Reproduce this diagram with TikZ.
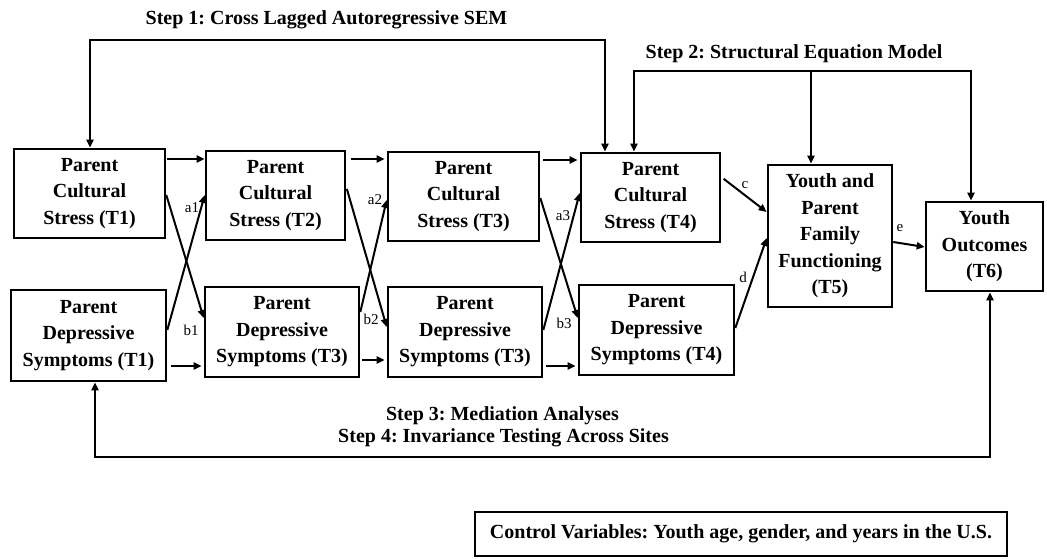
\documentclass[tikz,border=0pt]{standalone}
\usepackage{fontspec}
\setmainfont{Liberation Serif}
\usetikzlibrary{arrows.meta}
\frenchspacing
\begin{document}
\begin{tikzpicture}[x=1pt,y=-1pt,
  bx/.style={draw, line width=2.6pt, align=center, inner sep=0pt, font=\fontsize{20}{26.5}\selectfont\bfseries},
  ttl/.style={font=\fontsize{20}{20}\selectfont\bfseries, inner sep=0pt, anchor=base},
  lbl/.style={font=\fontsize{15}{15}\selectfont, inner sep=0pt},
  arr/.style={line width=2pt, -{Triangle[length=8pt,width=7pt]}},
  darr/.style={line width=2pt, {Triangle[length=8pt,width=7pt]}-{Triangle[length=8pt,width=7pt]}}]
\useasboundingbox (0,0) rectangle (1047,559);

% boxes
\node[bx, minimum width=151pt, minimum height=89pt] (cs1) at (89.5,193.5) {Parent\\Cultural\\Stress (T1)};
\node[bx, minimum width=139pt, minimum height=89pt] (cs2) at (275.5,195.5) {Parent\\Cultural\\Stress (T2)};
\node[bx, minimum width=151pt, minimum height=89pt] (cs3) at (463.5,196.5) {Parent\\Cultural\\Stress (T3)};
\node[bx, minimum width=139pt, minimum height=89pt] (cs4) at (650.5,197.5) {Parent\\Cultural\\Stress (T4)};
\node[bx, minimum width=155pt, minimum height=91pt] (ds1) at (88.5,335.5) {Parent\\Depressive\\Symptoms (T1)};
\node[bx, minimum width=154pt, minimum height=90pt] (ds2) at (282,332) {Parent\\Depressive\\Symptoms (T3)};
\node[bx, minimum width=154pt, minimum height=90pt] (ds3) at (465,332) {Parent\\Depressive\\Symptoms (T3)};
\node[bx, minimum width=155pt, minimum height=90pt] (ds4) at (656.5,330) {Parent\\Depressive\\Symptoms (T4)};
\node[bx, minimum width=124pt, minimum height=142pt] (yp) at (830,236) {Youth and\\Parent\\Family\\Functioning\\(T5)};
\node[bx, minimum width=117pt, minimum height=89pt] (yo) at (984.5,246.5) {Youth\\Outcomes\\(T6)};
\node[bx, minimum width=532pt, minimum height=44pt] (ctrl) at (741,534) {Control Variables: Youth age, gender, and years in the U.S.};

% titles
\node[ttl] (t1) at (326.5,25) {Step 1: Cross Lagged Autoregressive SEM};
\node[ttl] (t2) at (794,59) {Step 2: Structural Equation Model};
\node[ttl] (t3) at (502.5,420) {Step 3: Mediation Analyses};
\node[ttl] (t4) at (503.5,442) {Step 4: Invariance Testing Across Sites};

% frame coordinates
\coordinate (s1L) at (90,40);
\coordinate (s1R) at (605,40);
\coordinate (s2L) at (634,71);
\coordinate (s2M) at (811,71);
\coordinate (s2R) at (971,71);
\coordinate (b1) at (95,457);
\coordinate (b2) at (990,457);

\draw[darr] (s1L |- cs1.north) -- (s1L) -- (s1R) -- (s1R |- cs4.north);
\draw[darr] (s2L |- cs4.north) -- (s2L) -- (s2R) -- (s2R |- yo.north);
\draw[arr] (s2M) -- (s2M |- yp.north);
\draw[darr] (b1 |- ds1.south) -- (b1) -- (b2) -- (b2 |- yo.south);

% autoregressive paths
\draw[arr, shorten <=1pt] (cs1.east |- 0,159) -- (cs2.west |- 0,159);
\draw[arr, shorten <=5pt, shorten >=2pt] (cs2.east |- 0,159) -- (cs3.west |- 0,159);
\draw[arr, shorten <=3pt, shorten >=2pt] (cs3.east |- 0,160) -- (cs4.west |- 0,160);
\draw[arr, shorten <=4pt, shorten >=2pt] (ds1.east |- 0,366) -- (ds2.west |- 0,366);
\draw[arr, shorten <=2pt, shorten >=2pt] (ds2.east |- 0,360) -- (ds3.west |- 0,360);
\draw[arr, shorten <=3pt, shorten >=2pt] (ds3.east |- 0,366) -- (ds4.west |- 0,366);

% cross-lagged paths
\draw[arr] (cs1.east |- 0,195) -- (ds2.west |- 0,318);
\draw[arr] (ds1.east |- 0,330) -- (cs2.west |- 0,195);
\draw[arr, shorten <=2pt] (cs2.east |- 0,187) -- (ds3.west |- 0,327);
\draw[arr] (ds2.east |- 0,312) -- (cs3.west |- 0,200);
\draw[arr] (cs3.east |- 0,198) -- (ds4.west |- 0,318);
\draw[arr] (ds3.east |- 0,330) -- (cs4.west |- 0,193);
\draw[arr, shorten <=3pt] (cs4.east |- 0,177) -- (yp.west |- 0,212);
\draw[arr] (ds4.east |- 0,328) -- (yp.west |- 0,238);
\draw[arr] (yp.east |- 0,242) -- (yo.west |- 0,247);

% labels
\node[lbl] (la1) at (192,208) {a1};
\node[lbl] (lb1) at (191,330) {b1};
\node[lbl] (la2) at (375,200) {a2};
\node[lbl] (lb2) at (371,319) {b2};
\node[lbl] (la3) at (563,216) {a3};
\node[lbl] (lb3) at (564,323) {b3};
\node[lbl] (lc) at (745,185) {c};
\node[lbl] (ld) at (743,277) {d};
\node[lbl] (le) at (900,228) {e};
\end{tikzpicture}
\end{document}
